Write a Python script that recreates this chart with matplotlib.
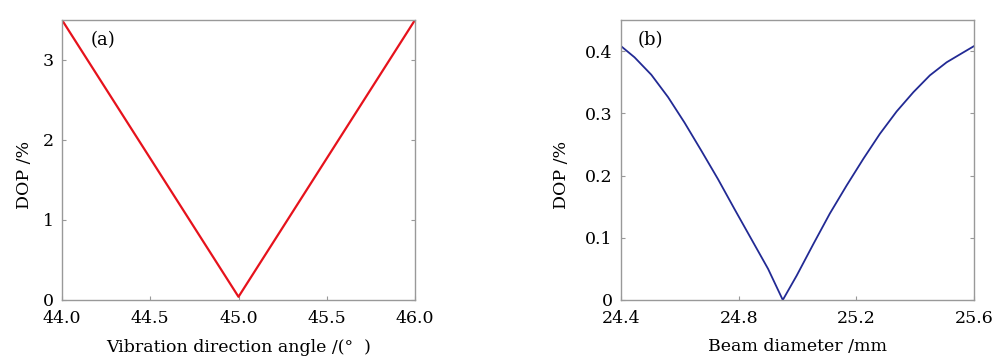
import matplotlib
matplotlib.use('Agg')
import matplotlib.pyplot as plt

# (a) DOP vs vibration direction angle
angle = [44.0, 45.0, 46.0]
dop_angle = [3.5, 0.04, 3.5]

# (b) DOP vs beam diameter
diameter = [24.400, 24.446, 24.503, 24.560, 24.616, 24.673, 24.730, 24.786,
            24.843, 24.900, 24.950, 24.997, 25.054, 25.110, 25.167, 25.224,
            25.280, 25.337, 25.394, 25.450, 25.507, 25.564, 25.600]
dop_diam = [0.408, 0.390, 0.362, 0.326, 0.285, 0.240, 0.194, 0.146,
            0.098, 0.050, 0.0, 0.039, 0.090, 0.139, 0.184, 0.227,
            0.267, 0.303, 0.334, 0.361, 0.382, 0.398, 0.408]

xticks_a = [44.0, 44.5, 45.0, 45.5, 46.0]
yticks_a = [0, 1, 2, 3]
xticks_b = [24.4, 24.8, 25.2, 25.6]
yticks_b = [0, 0.1, 0.2, 0.3, 0.4]

plt.rcParams['font.family'] = 'DejaVu Serif'
plt.rcParams['font.size'] = 12

fig = plt.figure(figsize=(10, 3.6), dpi=100)
ax1 = fig.add_axes([0.062, 0.1667, 0.353, 0.7778])
ax2 = fig.add_axes([0.621, 0.1667, 0.353, 0.7778])

ax1.plot(angle, dop_angle, color='#e6121c', lw=1.6)
ax1.set_xlim(44, 46)
ax1.set_ylim(0, 3.5)
ax1.set_xticks(xticks_a)
ax1.set_xticklabels(['%.1f' % v for v in xticks_a])
ax1.set_yticks(yticks_a)
ax1.set_xlabel('Vibration direction angle /(°  )', fontsize=12.5, labelpad=9)
ax1.set_ylabel('DOP /%', fontsize=12.5)
ax1.yaxis.set_label_coords(-0.083, 0.446)
ax1.text(0.08, 0.93, '(a)', transform=ax1.transAxes, fontsize=13, va='center')

ax2.plot(diameter, dop_diam, color='#222a94', lw=1.3)
ax2.set_xlim(24.4, 25.6)
ax2.set_ylim(0, 0.45)
ax2.set_xticks(xticks_b)
ax2.set_yticks(yticks_b)
ax2.set_yticklabels(['0', '0.1', '0.2', '0.3', '0.4'])
ax2.set_xlabel('Beam diameter /mm', fontsize=12.5, labelpad=8)
ax2.set_ylabel('DOP /%', fontsize=12.5)
ax2.yaxis.set_label_coords(-0.145, 0.446)
ax2.text(0.048, 0.93, '(b)', transform=ax2.transAxes, fontsize=13, va='center')

for ax in (ax1, ax2):
    for s in ax.spines.values():
        s.set_color('#999999')
        s.set_linewidth(1.0)
    ax.tick_params(direction='in', length=3, color='#999999', right=True,
                   top=False, labelsize=12.5)
    ax.tick_params(axis='x', pad=7)
    ax.tick_params(axis='y', pad=6)

fig.savefig('out.png', dpi=100)
